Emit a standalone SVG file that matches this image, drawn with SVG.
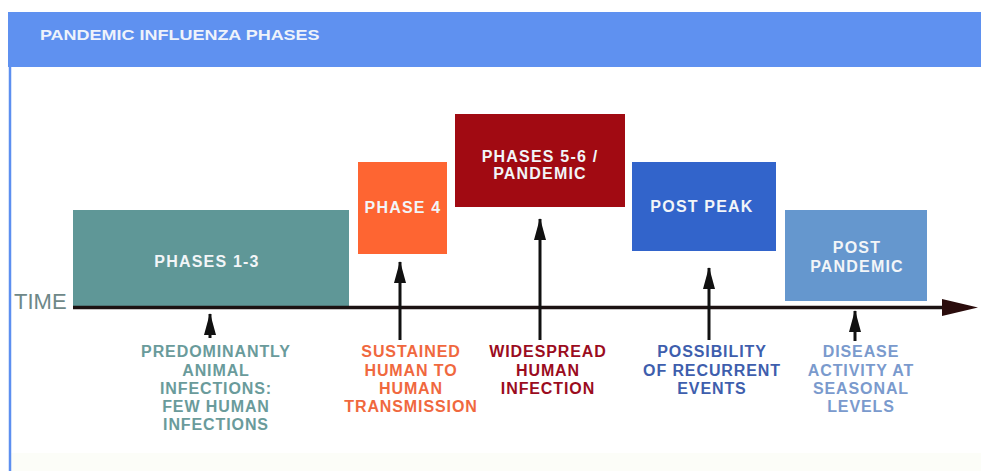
<svg xmlns="http://www.w3.org/2000/svg" width="981" height="471" viewBox="0 0 981 471">
  <style>
    .box-label { font-family: "Liberation Sans", Arial, sans-serif; font-weight: bold; font-size: 16px; fill: #f2f5f8; text-anchor: middle; letter-spacing: 1.2px; }
    .note { font-family: "Liberation Sans", Arial, sans-serif; font-weight: bold; font-size: 16px; text-anchor: middle; letter-spacing: 0.9px; }
    .pointer { stroke: #111; stroke-width: 3; fill: none; }
  </style>
  <defs>
    <!-- slim arrowhead, drawn along +x so orient="auto" turns it with the line -->
    <marker id="up-head" markerWidth="22" markerHeight="12" refX="21" refY="6" orient="auto" markerUnits="userSpaceOnUse" viewBox="0 0 22 12">
      <path d="M0 0 L22 6 L0 12 Z" fill="#111"/>
    </marker>
  </defs>

  <!-- page background -->
  <rect x="0" y="0" width="981" height="471" fill="#ffffff"/>
  <rect x="10" y="453" width="971" height="18" fill="#fcfdf8"/>
  <line x1="10" y1="66" x2="10" y2="471" stroke="#5d8ff0" stroke-width="2.5"/>

  <!-- title band -->
  <g id="title">
    <rect x="8" y="12" width="973" height="55" fill="#5f91f0"/>
    <text transform="scale(1.2,1)" x="33.3" y="40" font-family="Liberation Sans, Arial, sans-serif" font-weight="bold" font-size="15" fill="#eef3fb">PANDEMIC INFLUENZA PHASES</text>
  </g>

  <!-- phase blocks -->
  <g id="phases-1-3">
    <rect x="73" y="210" width="276" height="97" fill="#5f9797"/>
    <text class="box-label" x="207" y="267" letter-spacing="1.7">PHASES 1-3</text>
  </g>
  <g id="phase-4">
    <rect x="358" y="162" width="89" height="92" fill="#fe6532"/>
    <text class="box-label" x="403" y="213" letter-spacing="1">PHASE 4</text>
  </g>
  <g id="phases-5-6">
    <rect x="455" y="114" width="170" height="93" fill="#a10a12"/>
    <text class="box-label" x="540" y="162" letter-spacing="1.3">PHASES 5-6 /</text>
    <text class="box-label" x="540" y="179" letter-spacing="1.3">PANDEMIC</text>
  </g>
  <g id="post-peak">
    <rect x="632" y="162" width="144" height="89" fill="#3264cb"/>
    <text class="box-label" x="702" y="212">POST PEAK</text>
  </g>
  <g id="post-pandemic">
    <rect x="785" y="210" width="142" height="91" fill="#6597ce"/>
    <text class="box-label" x="857" y="253">POST</text>
    <text class="box-label" x="857" y="272">PANDEMIC</text>
  </g>

  <!-- time axis and pointers -->
  <g id="connectors">
    <line x1="73" y1="307.5" x2="948" y2="307.5" stroke="#1c1212" stroke-width="3.5"/>
    <path d="M942 299 L978 307.5 L942 316 Z" fill="#2a0c0c"/>
    <line class="pointer" x1="210" y1="338" x2="210" y2="314" marker-end="url(#up-head)"/>
    <line class="pointer" x1="400" y1="340" x2="400" y2="262" marker-end="url(#up-head)"/>
    <line class="pointer" x1="540" y1="340" x2="540" y2="219" marker-end="url(#up-head)"/>
    <line class="pointer" x1="709" y1="340" x2="709" y2="268" marker-end="url(#up-head)"/>
    <line class="pointer" x1="855" y1="341" x2="855" y2="311" marker-end="url(#up-head)"/>
  </g>

  <g id="time-label">
    <text x="14" y="309" font-family="Liberation Sans, Arial, sans-serif" font-size="22" fill="#6e8888">TIME</text>
  </g>

  <!-- descriptions under the axis -->
  <g id="note-animal" fill="#6a9b9b">
    <text class="note" x="216" y="357">PREDOMINANTLY</text>
    <text class="note" x="216" y="375.5">ANIMAL</text>
    <text class="note" x="216" y="394">INFECTIONS:</text>
    <text class="note" x="216" y="412">FEW HUMAN</text>
    <text class="note" x="216" y="430">INFECTIONS</text>
  </g>
  <g id="note-sustained" fill="#f0683e">
    <text class="note" x="411" y="357">SUSTAINED</text>
    <text class="note" x="411" y="375.5">HUMAN TO</text>
    <text class="note" x="411" y="394">HUMAN</text>
    <text class="note" x="411" y="412">TRANSMISSION</text>
  </g>
  <g id="note-widespread" fill="#9b0c1e">
    <text class="note" x="548" y="357">WIDESPREAD</text>
    <text class="note" x="548" y="375.5">HUMAN</text>
    <text class="note" x="548" y="394">INFECTION</text>
  </g>
  <g id="note-recurrent" fill="#3e5ead">
    <text class="note" x="712" y="357">POSSIBILITY</text>
    <text class="note" x="712" y="375.5">OF RECURRENT</text>
    <text class="note" x="712" y="394">EVENTS</text>
  </g>
  <g id="note-seasonal" fill="#7a9acd">
    <text class="note" x="861" y="357">DISEASE</text>
    <text class="note" x="861" y="375.5">ACTIVITY AT</text>
    <text class="note" x="861" y="394">SEASONAL</text>
    <text class="note" x="861" y="412">LEVELS</text>
  </g>
</svg>
